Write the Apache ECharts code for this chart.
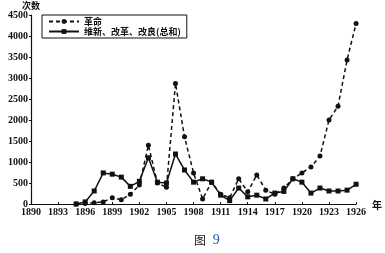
<!DOCTYPE html>
<html><head><meta charset="utf-8">
<script src="https://cdn.jsdelivr.net/npm/echarts@6/dist/echarts.min.js"></script>
<style>html,body{margin:0;padding:0;background:#fff}#c{width:385px;height:253px}</style>
</head><body><div id="c"></div>
<script>
const years = [1895,1896,1897,1898,1899,1900,1901,1902,1903,1904,1905,1906,1907,1908,1909,1910,1911,1912,1913,1914,1915,1916,1917,1918,1919,1920,1921,1922,1923,1924,1925,1926];
const revolution = [0,10,30,50,150,100,230,450,1400,500,400,2870,1600,740,120,520,230,150,600,290,690,330,230,380,600,740,880,1140,2000,2330,3430,4300];
const reform = [0,50,310,740,710,640,420,540,1100,520,500,1190,810,520,600,520,210,80,380,170,210,120,260,300,600,520,260,380,310,310,330,470];
const seriesNames = ['革命','维新、改革、改良(总和)'];
const yAxisName = '次数';
const xAxisName = '年';
const caption = '图';
const captionNum = '9';

const font = 'Liberation Serif, DejaVu Serif, serif';
const ink = '#111';
const chart = echarts.init(document.getElementById('c'));
chart.setOption({
  animation:false,
  backgroundColor:'#fff',
  grid:{left:31,right:18,top:15,bottom:49,containLabel:false},
  legend:{
    orient:'vertical', left:42, top:15, borderColor:ink, borderWidth:1,
    padding:[2,6,2,6], itemGap:1, itemWidth:30, itemHeight:6,
    textStyle:{fontFamily:'Noto Sans CJK SC', fontSize:9, fontWeight:'bold', color:ink},
    data:seriesNames
  },
  xAxis:{
    type:'value', min:1890, max:1926, interval:3,
    name:xAxisName, nameLocation:'end', nameGap:2,
    nameTextStyle:{fontFamily:'Noto Sans CJK SC', fontSize:10, fontWeight:'bold', color:ink, verticalAlign:'bottom', padding:[0,0,-6,0]},
    axisLine:{lineStyle:{color:ink,width:1.2}},
    axisTick:{inside:true,length:2,lineStyle:{color:ink}},
    splitLine:{show:false},
    axisLabel:{fontFamily:font, fontSize:10, fontWeight:'bold', color:ink, margin:3, formatter:v=>String(v)}
  },
  yAxis:{
    type:'value', min:0, max:4500, interval:500,
    name:yAxisName, nameLocation:'end', nameGap:3,
    nameTextStyle:{fontFamily:'Noto Sans CJK SC', fontSize:9, fontWeight:'bold', color:ink},
    axisLine:{show:true,lineStyle:{color:ink,width:1.2}},
    axisTick:{show:true,length:2,lineStyle:{color:ink}},
    splitLine:{show:false},
    axisLabel:{fontFamily:font, fontSize:10, fontWeight:'bold', color:ink, margin:3, formatter:v=>String(v)}
  },
  series:[
    {name:seriesNames[0], type:'line', data:years.map((y,i)=>[y,revolution[i]]),
     symbol:'circle', symbolSize:5, itemStyle:{color:ink},
     lineStyle:{color:ink,width:1.5,type:[4,3]}},
    {name:seriesNames[1], type:'line', data:years.map((y,i)=>[y,reform[i]]),
     symbol:'rect', symbolSize:5, itemStyle:{color:ink},
     lineStyle:{color:ink,width:1.5,type:'solid'}}
  ],
  graphic:[{
    type:'text', left:194, top:233,
    style:{text:'{a|'+caption+'}  {b|'+captionNum+'}',
      rich:{a:{fontFamily:'Noto Sans CJK SC',fontSize:12,fill:'#222'},b:{fontFamily:font,fontSize:14,fill:'#2a4fc4'}}}
  }]
});
</script></body></html>
